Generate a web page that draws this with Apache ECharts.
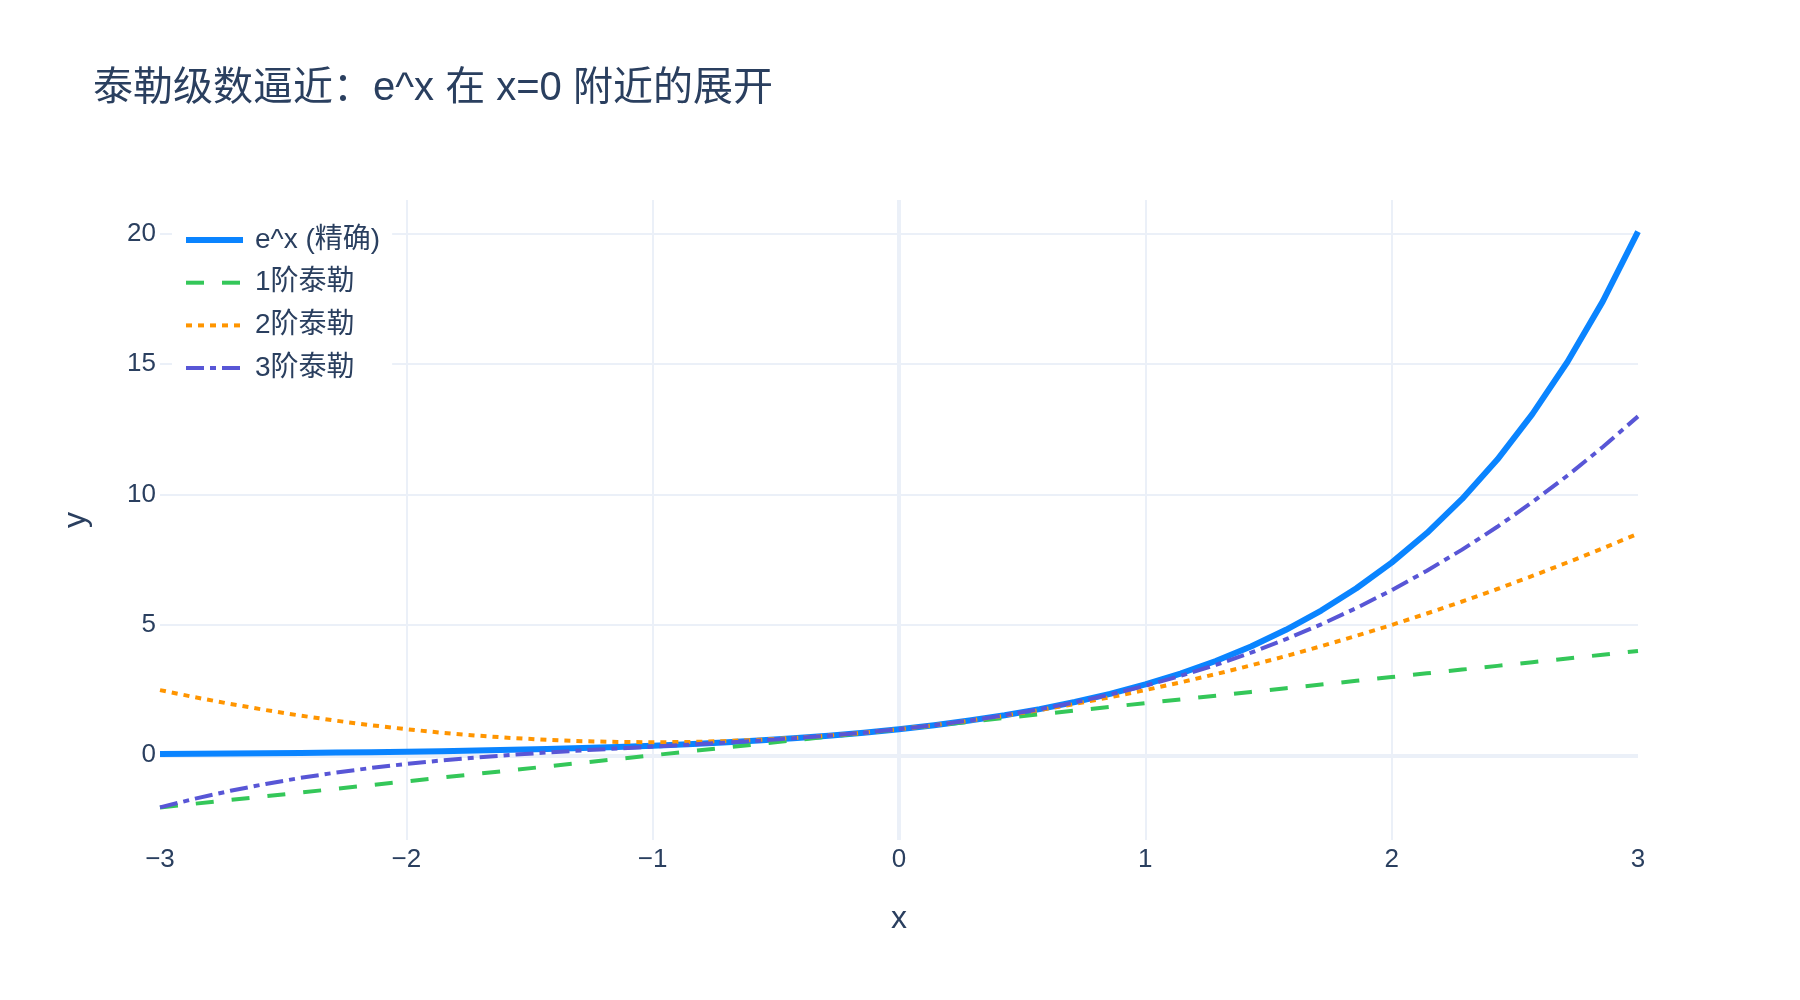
<!DOCTYPE html>
<html>
<head>
<meta charset="utf-8">
<script src="https://cdn.jsdelivr.net/npm/echarts@6/dist/echarts.min.js"></script>
<style>
html,body{margin:0;padding:0;background:#fff;}
#chart{width:1800px;height:1000px;}
</style>
</head>
<body>
<div id="chart"></div>
<script>
const titleText = '泰勒级数逼近：e^x 在 x=0 附近的展开';
const seriesNames = ['e^x (精确)', '1阶泰勒', '2阶泰勒', '3阶泰勒'];
const xTickLabels = [-3, -2, -1, 0, 1, 2, 3];
const yTickLabels = [0, 5, 10, 15, 20];

const xs = [-3.000, -2.857, -2.714, -2.571, -2.429, -2.286, -2.143, -2.000, -1.857, -1.714, -1.571,
  -1.429, -1.286, -1.143, -1.000, -0.857, -0.714, -0.571, -0.429, -0.286, -0.143, 0.000,
  0.143, 0.286, 0.429, 0.571, 0.714, 0.857, 1.000, 1.143, 1.286, 1.429, 1.571, 1.714,
  1.857, 2.000, 2.143, 2.286, 2.429, 2.571, 2.714, 2.857, 3.000];

const expExact = [0.0498, 0.0574, 0.0663, 0.0764, 0.0882, 0.1017, 0.1173, 0.1353, 0.1561, 0.1801, 0.2077,
  0.2397, 0.2765, 0.3189, 0.3679, 0.4244, 0.4895, 0.5647, 0.6514, 0.7515, 0.8669, 1.0000,
  1.1536, 1.3307, 1.5351, 1.7708, 2.0427, 2.3564, 2.7183, 3.1357, 3.6173, 4.1727, 4.8135, 5.5527,
  6.4054, 7.3891, 8.5238, 9.8327, 11.3427, 13.0845, 15.0938, 17.4117, 20.0855];

const taylor1 = [-2.000, -1.857, -1.714, -1.571, -1.429, -1.286, -1.143, -1.000, -0.857, -0.714, -0.571,
  -0.429, -0.286, -0.143, 0.000, 0.143, 0.286, 0.429, 0.571, 0.714, 0.857, 1.000,
  1.143, 1.286, 1.429, 1.571, 1.714, 1.857, 2.000, 2.143, 2.286, 2.429, 2.571, 2.714,
  2.857, 3.000, 3.143, 3.286, 3.429, 3.571, 3.714, 3.857, 4.000];

const taylor2 = [2.500, 2.224, 1.969, 1.735, 1.520, 1.327, 1.153, 1.000, 0.867, 0.755, 0.663,
  0.592, 0.541, 0.510, 0.500, 0.510, 0.541, 0.592, 0.663, 0.755, 0.867, 1.000,
  1.153, 1.327, 1.520, 1.735, 1.969, 2.224, 2.500, 2.796, 3.112, 3.449, 3.806, 4.184,
  4.582, 5.000, 5.439, 5.898, 6.378, 6.878, 7.398, 7.939, 8.500];

const taylor3 = [-2.000, -1.663, -1.363, -1.099, -0.867, -0.664, -0.487, -0.333, -0.200, -0.085, 0.017,
  0.106, 0.187, 0.261, 0.333, 0.405, 0.480, 0.561, 0.650, 0.751, 0.867, 1.000,
  1.154, 1.330, 1.534, 1.766, 2.030, 2.329, 2.667, 3.045, 3.466, 3.935, 4.453, 5.023,
  5.649, 6.333, 7.079, 7.888, 8.765, 9.711, 10.731, 11.826, 13.000];

const colors = ['#0a84ff', '#34c759', '#ff9500', '#5856d6'];
const textColor = '#2a3f5f';
const gridColor = '#ebf0f8';
const FONT = '"Liberation Sans", Arial, "Noto Sans CJK SC", sans-serif';

function pairs(ys) { return xs.map((x, i) => [x, ys[i]]); }
function fmtMinus(v) { return String(v).replace('-', '\u2212'); }

const chart = echarts.init(document.getElementById('chart'), null, { renderer: 'canvas' });

const lineStyles = [
  { width: 6, type: 'solid' },
  { width: 4, type: [18, 18] },
  { width: 4, type: [6, 6] },
  { width: 4, type: [18, 6, 6, 6] }
];
const allData = [expExact, taylor1, taylor2, taylor3];

const series = allData.map((d, i) => ({
  name: seriesNames[i],
  type: 'line',
  data: pairs(d),
  showSymbol: false,
  symbol: 'none',
  smooth: false,
  z: 2 + i,
  lineStyle: Object.assign({ color: colors[i], cap: 'butt', join: 'round' }, lineStyles[i]),
  itemStyle: { color: colors[i] },
  emphasis: { disabled: true }
}));

// zero lines
series.push({
  name: 'zero',
  type: 'line',
  data: [],
  silent: true,
  markLine: {
    silent: true,
    z: 1,
    symbol: 'none',
    label: { show: false },
    lineStyle: { color: gridColor, width: 4, type: 'solid' },
    emphasis: { disabled: true },
    data: [{ xAxis: 0 }, { yAxis: 0 }]
  }
});

const legendData = seriesNames.map((n, i) => ({
  name: n,
  itemStyle: { opacity: 0, borderWidth: 0 },
  lineStyle: Object.assign({ color: colors[i], cap: 'butt', opacity: 1 }, lineStyles[i])
}));

chart.setOption({
  animation: false,
  backgroundColor: '#ffffff',
  textStyle: { fontFamily: FONT },
  title: {
    text: titleText,
    left: 88,
    top: 64,
    textStyle: { fontFamily: FONT, fontSize: 40, fontWeight: 'normal', color: textColor }
  },
  legend: {
    data: legendData,
    left: 172,
    top: 218,
    orient: 'vertical',
    itemWidth: 57,
    itemHeight: 28,
    itemGap: 14.7,
    padding: [8, 12, 8, 11],
    backgroundColor: '#ffffff',
    selectedMode: false,
    textStyle: { fontFamily: FONT, fontSize: 28, color: textColor, padding: [0, 0, 0, 7] }
  },
  grid: { left: 160, right: 162, top: 200, bottom: 160, containLabel: false },
  xAxis: {
    type: 'value',
    min: -3,
    max: 3,
    interval: 1,
    name: 'x',
    nameLocation: 'middle',
    nameGap: 63,
    nameTextStyle: { fontFamily: FONT, fontSize: 32, color: textColor },
    axisLine: { show: false },
    axisTick: { show: false, customValues: [-2, -1, 0, 1, 2] },
    axisLabel: {
      customValues: xTickLabels,
      fontFamily: FONT, fontSize: 26, color: textColor, margin: 7,
      formatter: fmtMinus,
      showMinLabel: true, showMaxLabel: true
    },
    splitLine: { show: true, lineStyle: { color: gridColor, width: 2 } }
  },
  yAxis: {
    type: 'value',
    min: -3.25,
    max: 21.3,
    name: 'y',
    nameLocation: 'middle',
    nameGap: 68,
    nameRotate: 90,
    nameTextStyle: { fontFamily: FONT, fontSize: 32, color: textColor },
    axisLine: { show: false },
    axisTick: { show: false, customValues: yTickLabels },
    axisLabel: {
      customValues: yTickLabels,
      fontFamily: FONT, fontSize: 26, color: textColor, margin: 4,
      formatter: fmtMinus
    },
    splitLine: { show: true, lineStyle: { color: gridColor, width: 2 } }
  },
  series: series
});
</script>
</body>
</html>
